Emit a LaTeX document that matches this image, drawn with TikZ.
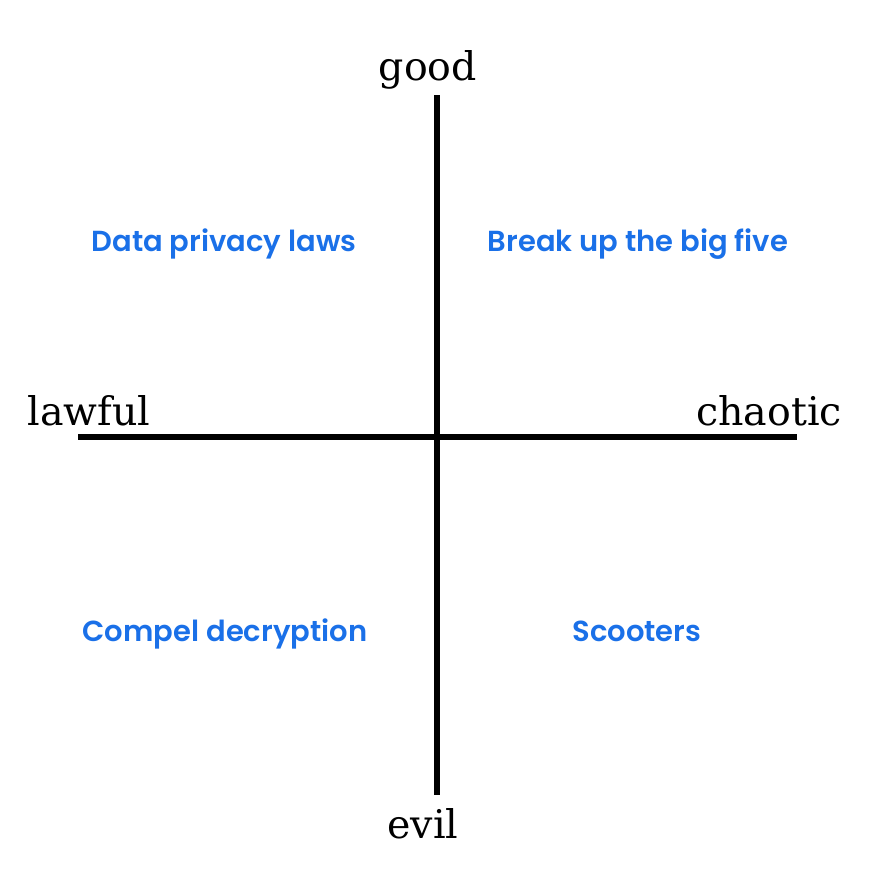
\documentclass[tikz,border=0pt]{standalone}
\usepackage{fontspec}
\newfontfamily\quadfont{Poppins SemiBold}
\newfontfamily\axfont{DejaVu Serif}
\usepackage{tikz}
\usetikzlibrary{positioning}
\definecolor{quadblue}{RGB}{26,112,232}
\tikzset{axis/.style={line width=6pt},
         axlabel/.style={anchor=base, inner sep=0pt, font=\axfont\fontsize{39.5}{44}\selectfont},
         quad/.style={anchor=base, inner sep=0pt, text=quadblue, font=\quadfont\fontsize{29}{34}\selectfont}}

\begin{document}
\begin{tikzpicture}[x=1pt, y=-1pt]
			\useasboundingbox (0,0) rectangle (886,886);
			% axes
			\coordinate (T) 	at (437,95);
			\coordinate (B) 	at (437,795);
			\coordinate (L) 	at (78,437);
			\coordinate (R) 	at (797,437);
			\draw[axis]			(T)		-- (B);
			\draw[axis]			(L)		-- (R);
			% axis labels
			\node[axlabel] (good) 		at (428,80) 		{good};
			\node[axlabel] (evil) 		at (423,838) 		{evil};
			\node[axlabel] (lawful) 	at (89,425) 		{lawful};
			\node[axlabel] (chaotic) 	at (769,425) 		{chaotic};
			% quadrants
			\node[quad] (LG) 	at (224,251) 		{Data privacy laws};
			\node[quad] (CG) 	at (638,251) 		{Break up the big five};
			\node[quad] (LE) 	at (225,641) 		{Compel decryption};
			\node[quad] (CE) 	at (637,641) 		{Scooters};
\end{tikzpicture}
\end{document}
